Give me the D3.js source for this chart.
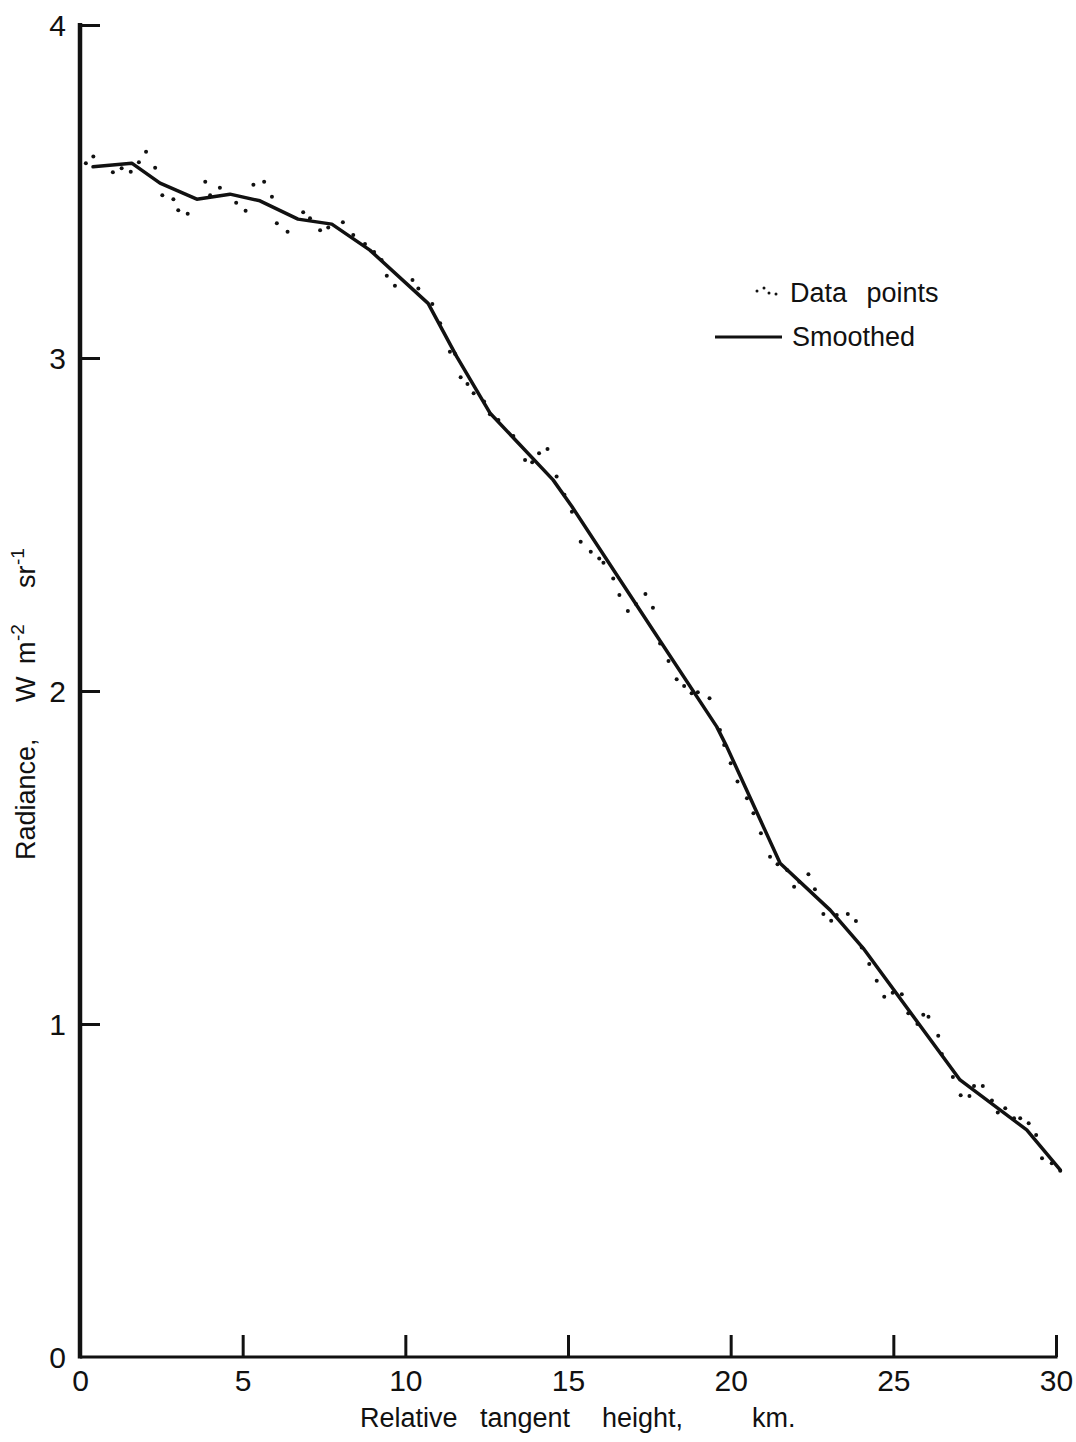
<!DOCTYPE html>
<html>
<head>
<meta charset="utf-8">
<script src="https://cdn.jsdelivr.net/npm/d3@7"></script>
<style>
  html, body { margin: 0; padding: 0; background: #fff; }
  svg { display: block; font-family: "Liberation Sans", Arial, sans-serif; }
</style>
</head>
<body>
<svg id="chart" width="1076" height="1442"></svg>
<script>
// Radiance profile versus relative tangent height

// Axis tick values
const xTickValues = [0, 5, 10, 15, 20, 25, 30];
const yTickValues = [0, 1, 2, 3, 4];

// Smoothed curve (km, W m^-2 sr^-1)
const smoothKm  = [0.40, 1.59, 2.46, 3.59, 4.61, 5.53, 6.70, 7.74, 8.91, 10.70, 11.58, 12.60, 14.54, 15.12, 17.61, 19.57, 19.88, 21.52, 23.06, 24.07, 27.05, 29.10, 30.13];
const smoothRad = [3.574, 3.585, 3.525, 3.477, 3.492, 3.472, 3.417, 3.402, 3.324, 3.164, 3.004, 2.835, 2.634, 2.554, 2.183, 1.893, 1.833, 1.483, 1.342, 1.228, 0.832, 0.682, 0.562];

// Individual measurements
const dotKm = [
  0.18, 0.41, 1.01, 1.28, 1.56, 1.81, 2.03, 2.31, 2.53, 2.87,
  3.02, 3.31, 3.85, 4.00, 4.30, 4.80, 5.09, 5.33, 5.66, 5.90,
  6.05, 6.38, 6.86, 7.07, 7.38, 7.63, 8.08, 8.40, 8.76, 9.04,
  9.27, 9.43, 9.68, 10.22, 10.40, 10.83, 11.07, 11.37, 11.53, 11.70,
  11.91, 12.10, 12.42, 12.60, 12.86, 13.32, 13.68, 13.90, 14.11, 14.37,
  14.65, 14.89, 15.12, 15.39, 15.70, 15.96, 16.09, 16.39, 16.58, 16.84,
  17.09, 17.38, 17.61, 17.83, 18.09, 18.34, 18.57, 18.80, 18.99, 19.35,
  19.67, 19.80, 20.00, 20.21, 20.50, 20.70, 20.93, 21.21, 21.44, 21.74,
  21.95, 22.11, 22.39, 22.59, 22.85, 23.09, 23.26, 23.60, 23.85, 24.03,
  24.26, 24.49, 24.72, 24.98, 25.26, 25.46, 25.74, 25.92, 26.08, 26.38,
  26.49, 26.83, 27.07, 27.34, 27.48, 27.75, 28.03, 28.21, 28.44, 28.71,
  28.90, 29.16, 29.39, 29.57, 29.87, 30.13
];
const dotRad = [
  3.585, 3.605, 3.558, 3.570, 3.559, 3.588, 3.619, 3.571, 3.489, 3.477,
  3.444, 3.433, 3.529, 3.489, 3.511, 3.466, 3.442, 3.520, 3.529, 3.484,
  3.405, 3.379, 3.438, 3.420, 3.384, 3.392, 3.408, 3.369, 3.342, 3.318,
  3.294, 3.247, 3.217, 3.234, 3.209, 3.162, 3.104, 3.019, 3.012, 2.942,
  2.922, 2.894, 2.869, 2.831, 2.814, 2.766, 2.694, 2.687, 2.714, 2.727,
  2.644, 2.589, 2.538, 2.448, 2.418, 2.398, 2.385, 2.338, 2.288, 2.240,
  2.261, 2.291, 2.250, 2.143, 2.090, 2.035, 2.015, 1.993, 1.996, 1.978,
  1.883, 1.838, 1.783, 1.728, 1.678, 1.633, 1.573, 1.502, 1.480, 1.462,
  1.412, 1.427, 1.450, 1.405, 1.330, 1.310, 1.327, 1.330, 1.309, 1.230,
  1.180, 1.130, 1.082, 1.094, 1.089, 1.032, 1.000, 1.028, 1.022, 0.965,
  0.910, 0.841, 0.786, 0.784, 0.814, 0.814, 0.770, 0.734, 0.747, 0.717,
  0.717, 0.702, 0.667, 0.597, 0.582, 0.559
];

// Legend entries and axis title words
const legendLabels = ["Data points", "Smoothed"];
const xTitleWords = ["Relative", "tangent", "height,", "km."];

const svg = d3.select("#chart");
const x = d3.scaleLinear().domain([0, 30]).range([80, 1056]);
const y = d3.scaleLinear().domain([0, 4]).range([1357, 25]);

const ink = "#111";

// Y axis: ticks point inward
const yAxis = svg.append("g")
  .attr("transform", `translate(${x(0)},0)`)
  .call(d3.axisLeft(y).tickValues(yTickValues).tickFormat(d3.format("d"))
    .tickSize(-20).tickSizeOuter(0).tickPadding(14));
yAxis.select(".domain").remove();
yAxis.selectAll(".tick line").attr("stroke", ink).attr("stroke-width", 3);
yAxis.selectAll(".tick text")
  .attr("fill", ink).attr("font-size", 30).attr("dy", "0.36em")
  .attr("font-family", "'Liberation Sans', Arial, sans-serif");
yAxis.selectAll(".tick").filter(d => d === 0).select("line").remove();

// X axis: ticks point upward
const xAxis = svg.append("g")
  .attr("transform", `translate(0,${y(0)})`)
  .call(d3.axisBottom(x).tickValues(xTickValues).tickFormat(d3.format("d"))
    .tickSize(-22).tickSizeOuter(0).tickPadding(12));
xAxis.select(".domain").remove();
xAxis.selectAll(".tick line").attr("stroke", ink).attr("stroke-width", 3);
xAxis.selectAll(".tick").filter(d => d === 0).select("line").remove();
xAxis.selectAll(".tick text")
  .attr("fill", ink).attr("font-size", 30).attr("dy", "0.72em")
  .attr("font-family", "'Liberation Sans', Arial, sans-serif");

// Axis frame lines
svg.append("line")
  .attr("x1", x(0)).attr("x2", x(0)).attr("y1", y(4) - 2).attr("y2", y(0) + 1.5)
  .attr("stroke", ink).attr("stroke-width", 4.5);
svg.append("line")
  .attr("x1", x(0)).attr("x2", x(30) + 1.5).attr("y1", y(0)).attr("y2", y(0))
  .attr("stroke", ink).attr("stroke-width", 3);

// X axis title, words spread out along the axis
const xTitle = svg.append("text")
  .attr("y", 1427).attr("font-size", 27).attr("fill", ink);
[360, 480, 602, 752].forEach((px, i) => {
  xTitle.append("tspan").attr("x", px).text(xTitleWords[i]);
});

// Y axis title (rotated; positions measured along the axis from its start)
const yTitle = svg.append("text")
  .attr("transform", "translate(35,860) rotate(-90)")
  .attr("font-size", 27).attr("fill", ink);
yTitle.append("tspan").attr("x", 0).attr("y", 0).text("Radiance,");
yTitle.append("tspan").attr("x", 158).attr("y", 0).text("W");
yTitle.append("tspan").attr("x", 196).attr("y", 0).text("m");
yTitle.append("tspan").attr("x", 219).attr("y", -11).attr("font-size", 19).text("-2");
yTitle.append("tspan").attr("x", 272).attr("y", 0).text("sr");
yTitle.append("tspan").attr("x", 295).attr("y", -11).attr("font-size", 19).text("-1");

// Smoothed curve
const curve = smoothKm.map((k, i) => [k, smoothRad[i]]);
svg.append("path")
  .datum(curve)
  .attr("fill", "none").attr("stroke", ink).attr("stroke-width", 3.5)
  .attr("stroke-linejoin", "round").attr("stroke-linecap", "round")
  .attr("d", d3.line().x(d => x(d[0])).y(d => y(d[1])));

// Data points
svg.append("g").selectAll("circle")
  .data(dotKm.map((k, i) => [k, dotRad[i]]))
  .join("circle")
  .attr("cx", d => x(d[0])).attr("cy", d => y(d[1]))
  .attr("r", 2).attr("fill", ink);

// Legend
const legend = svg.append("g");
[[757, 291], [764, 288], [769, 293], [776, 294]].forEach(p => {
  legend.append("circle").attr("cx", p[0]).attr("cy", p[1]).attr("r", 1.5).attr("fill", ink);
});
legend.append("text")
  .attr("x", 790).attr("y", 302).attr("font-size", 27).attr("fill", ink)
  .style("word-spacing", "12px")
  .text(legendLabels[0]);
legend.append("line")
  .attr("x1", 715).attr("x2", 782).attr("y1", 337).attr("y2", 337)
  .attr("stroke", ink).attr("stroke-width", 3);
legend.append("text")
  .attr("x", 792).attr("y", 346).attr("font-size", 27).attr("fill", ink)
  .text(legendLabels[1]);
</script>
</body>
</html>
